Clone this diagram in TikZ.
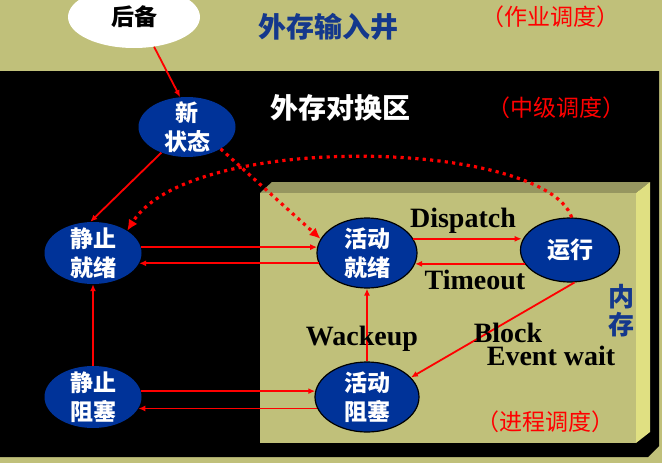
\documentclass[tikz,border=0pt]{standalone}
\usepackage{fontspec}
\setmainfont{Liberation Serif}
\newfontfamily\cjk{Noto Sans CJK SC}
\usetikzlibrary{shapes.geometric,arrows.meta}
\definecolor{olivebg}{RGB}{192,192,122}
\definecolor{olivetop}{RGB}{150,150,96}
\definecolor{oliveside}{RGB}{224,224,130}
\definecolor{stateblue}{RGB}{0,51,153}
\definecolor{titleblue}{RGB}{20,56,140}

\begin{document}
\begin{tikzpicture}[
  x=1pt,y=-1pt,
  state/.style={ellipse,fill=stateblue,text=white,align=center,inner sep=-6pt,
    minimum width=97pt,minimum height=62pt,font=\cjk\bfseries\fontsize{23}{29}\selectfont},
  memstate/.style={state,draw=black,line width=1.2pt},
  flow/.style={red,line width=1.8pt,-{Latex[length=7pt,width=6pt]}},
  swap/.style={red,line width=3.2pt,dash pattern=on 3.2pt off 4.2pt,-{Latex[length=11pt,width=10pt]}},
  event/.style={anchor=base,font=\bfseries\fontsize{28}{32}\selectfont},
  level/.style={red,font=\cjk\fontsize{23}{26}\selectfont}
]
  \useasboundingbox (0,0) rectangle (662,463);
  % background: input well, swap area, memory box
  \fill[olivebg] (0,0) rectangle (662,463);
  \fill[black] (0,71) -- (659,71) -- (659,446) -- (648,457) -- (0,457) -- cycle;
  \fill[olivetop] (260,193) -- (272,182) -- (650,182) -- (636,193) -- cycle;
  \fill[oliveside] (636,193) -- (650,182) -- (650,432) -- (636,443) -- cycle;
  \fill[olivebg] (260,193) rectangle (636,443);

  \node[font=\cjk\bfseries\fontsize{28}{32}\selectfont,text=titleblue] (well) at (328,27) {外存输入井};
  \node[level] (jobsched) at (550,17) {（作业调度）};
  \node[font=\cjk\bfseries\fontsize{28}{32}\selectfont,text=white] (swaparea) at (340,108) {外存对换区};
  \node[level] (midsched) at (556,108) {（中级调度）};
  \node[font=\cjk\bfseries\fontsize{26}{28}\selectfont,text=titleblue,align=center] (mem) at (621,311) {内\\存};
  \node[level] (procsched) at (545,422) {（进程调度）};

  % states
  \node[ellipse,fill=white,minimum width=132pt,minimum height=62pt,inner sep=0pt,
    font=\cjk\bfseries\fontsize{23}{29}\selectfont] (houbei) at (134,17) {后备};
  \node[state,minimum height=60pt] (xin) at (187,127) {新\\状态};
  \node[state] (jjx) at (93,253) {静止\\就绪};
  \node[state] (jzs) at (93,397) {静止\\阻塞};
  \node[memstate,minimum width=100pt,minimum height=70pt] (hjx) at (367,253) {活动\\就绪};
  \node[memstate,minimum width=99pt,minimum height=64pt] (yx) at (570,250) {运行};
  \node[memstate,minimum width=104pt,minimum height=70pt] (hzs) at (367,397) {活动\\阻塞};

  % transitions
  \draw[flow] (houbei.-56) -- (xin.103);
  \draw[flow] (xin.225) -- (jjx.95);
  \draw[swap] (xin.-33) -- (hjx.163);
  \draw[swap] (yx.87) .. controls (545,140) and (190,130) .. (jjx.33);
  \draw[flow] (hjx.17) -- (hjx.17 -| yx.170);
  \draw[flow] (yx.197) -- (yx.197 -| hjx.-13);
  \draw[flow] (jjx.7) -- (jjx.7 -| hjx.173);
  \draw[flow] (hjx.192) -- (hjx.192 -| jjx.-12);
  \draw[flow] (jzs.7) -- (jzs.7 -| hzs.173);
  \draw[flow] (hzs.193) -- (hzs.193 -| jzs.-14);
  \draw[flow] (jzs) -- (jjx);
  \draw[flow] (hzs) -- (hjx);
  \draw[flow] (yx.-82) -- (hzs.24);

  \node[event] (dispatch) at (463,227) {Dispatch};
  \node[event] (timeout) at (475,289) {Timeout};
  \node[event] (wakeup) at (362,345) {Wackeup};
  \node[event] (block) at (508,342) {Block};
  \node[event] (evwait) at (551,365) {Event wait};
\end{tikzpicture}
\end{document}
